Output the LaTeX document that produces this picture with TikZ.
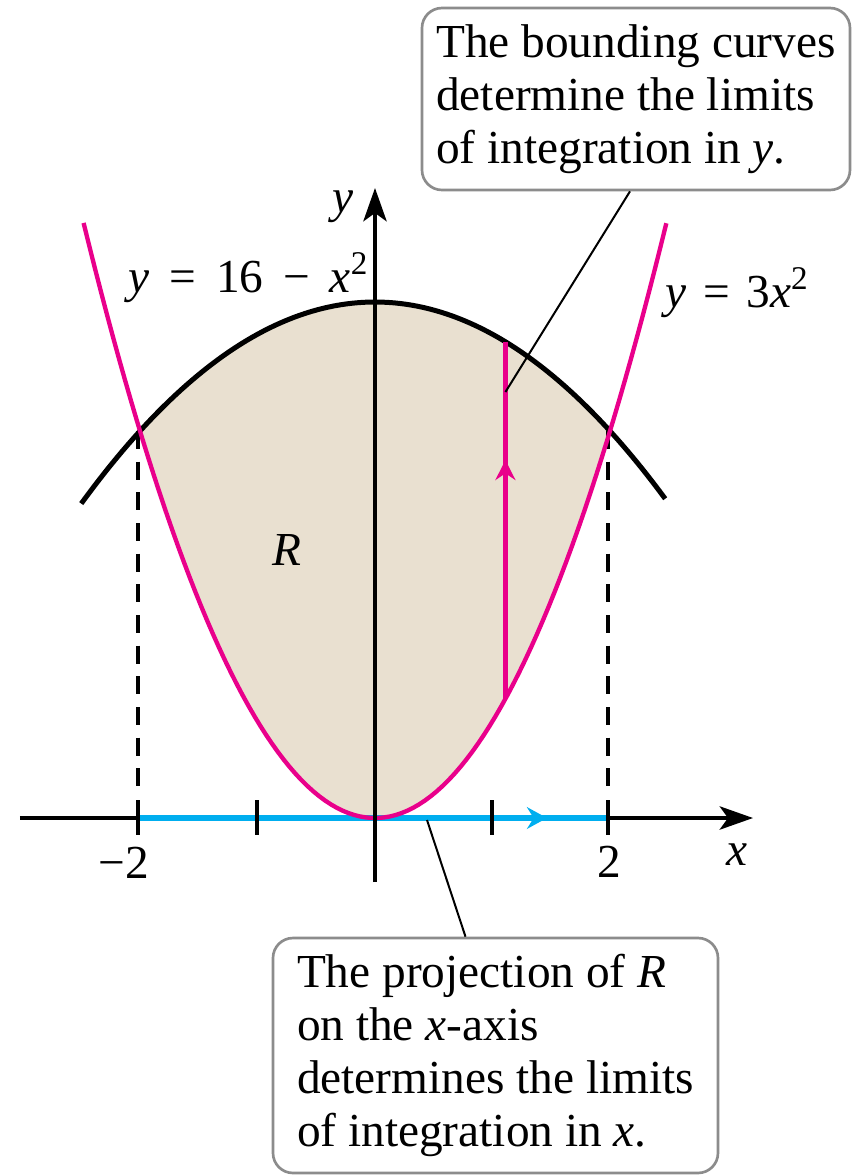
\documentclass[tikz,border=0pt]{standalone}
\usepackage{fontspec}
\setmainfont{Liberation Serif}
\usetikzlibrary{arrows.meta,calc}
\definecolor{fillR}{RGB}{233,224,208}
\definecolor{mag}{RGB}{233,0,139}
\definecolor{cyn}{RGB}{0,174,239}
\definecolor{boxgray}{RGB}{140,140,140}
\begin{document}
\begin{tikzpicture}[x=0.3pt,y=-0.3pt,
  font=\fontsize{14.2}{15.9}\selectfont,
  axisline/.style={line width=1.05pt,black},
  axistip/.style={-{Stealth[length=10pt,width=7pt,inset=2.5pt]}},
  ticks/.style={line width=1.05pt,black},
  guide/.style={line width=1.1pt,black,dash pattern=on 5.4pt off 3.8pt},
  curveB/.style={line width=1.5pt,black},
  curveP/.style={line width=1.3pt,mag},
  proj/.style={line width=1.8pt,cyn},
  callout/.style={draw=boxgray,line width=0.8pt,rounded corners=6pt,fill=white,align=left,inner sep=0pt},
  pointer/.style={line width=0.6pt,black},
  lbl/.style={inner sep=0pt}
]
\useasboundingbox (0,0) rectangle (852,1175);

% region R
\fill[fillR] plot[domain=-2:2,samples=80] ({375+117.5*\x},{818-96.75*\x*\x})
  -- plot[domain=2:-2,samples=80] ({375+117.5*\x},{818-32.25*(16-\x*\x)}) -- cycle;

% named points
\coordinate (O) at (375,818);
\coordinate (xL) at (20,818);
\coordinate (xR) at (753,818);
\coordinate (yB) at (375,882);
\coordinate (yT) at (375,188);
\coordinate (Am) at (138,431);
\coordinate (Ap) at (608,431);
\coordinate (Bm) at (138,818);
\coordinate (Bp) at (608,818);
\coordinate (Bmid) at (547,818);
\coordinate (Bmid2) at (540,818);
\coordinate (Pb) at ({375+117.5*1.11},{818-96.75*1.11*1.11});
\coordinate (Pt) at ({375+117.5*1.11},{818-32.25*(16-1.11*1.11)});
\coordinate (Pm) at ({375+117.5*1.11},460);
\coordinate (Pm2) at ({375+117.5*1.11},466);
\coordinate (Pc) at ({375+117.5*1.11},392);
\coordinate (Xc) at (427,820);

% dashed guides
\draw[guide] (Am) -- (138,790);
\draw[guide] (Ap) -- (608,790);

% axes
\draw[axisline] (xL) -- (Bm);
\draw[axisline,axistip] (Bp) -- (xR);

% projection
\draw[proj,-{Stealth[length=6pt,width=6.5pt,inset=2pt]}] (Bm) -- (Bmid);
\draw[proj] (Bmid2) -- (Bp);

% ticks
\foreach \t in {138,257,492,608} \draw[ticks] (\t,800) -- (\t,835);

% curves
\draw[curveB] plot[domain=-2.5:2.47,samples=100] ({375+117.5*\x},{818-32.25*(16-\x*\x)});
\draw[curveP] plot[domain=-2.48:2.48,samples=100] ({375+117.5*\x},{818-96.75*\x*\x});

% y-axis on top
\draw[axisline,axistip] (yB) -- (yT);

% vertical segment
\draw[curveP,-{Stealth[length=6pt,width=6pt,inset=2pt]}] (Pb) -- (Pm);
\draw[curveP] (Pm2) -- (Pt);

% labels
\node[lbl,anchor=base west] (l1) at (128,292) {\textit{y}\hspace{0.42em}=\hspace{0.42em}16\hspace{0.42em}−\hspace{0.42em}\textit{x}\textsuperscript{2}};
\node[lbl,anchor=base west] (l2) at (665,307) {\textit{y}\hspace{0.35em}=\hspace{0.35em}3\textit{x}\textsuperscript{2}};
\node[lbl,anchor=base] (ly) at (343,212) {\textit{y}};
\node[lbl,anchor=base] (lx) at (737,865) {\textit{x}};
\node[lbl,anchor=base] (lm2) at (124,878) {−2};
\node[lbl,anchor=base] (lp2) at (609,877) {2};
\node[lbl] (lR) at (287,550) {\textit{R}};

% callouts
\node[callout,minimum width=128.4pt,minimum height=54.6pt] (box1) at (636,99)
  {The bounding curves\\determine the limits\\of integration in \textit{y}.};
\node[callout,minimum width=133.5pt,minimum height=70.5pt] (box2) at (495.5,1055.5)
  {The projection of \textit{R}\\on the \textit{x}-axis\\determines the limits\\of integration in \textit{x}.};

\draw[pointer] ($(box1.south)+(-6,0)$) -- (Pc);
\draw[pointer] ($(box2.north)+(-30,0)$) -- (Xc);
\end{tikzpicture}
\end{document}
